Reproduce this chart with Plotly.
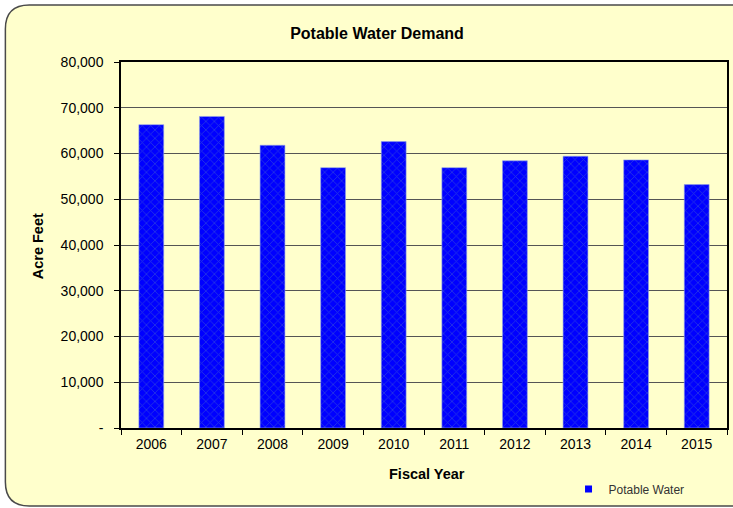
import plotly.graph_objects as go

# Fiscal-year potable water demand (acre feet)
years = ["2006", "2007", "2008", "2009", "2010", "2011", "2012", "2013", "2014", "2015"]
demand = [66300, 68100, 61800, 56900, 62600, 56900, 58400, 59400, 58600, 53200]

y_tick_vals = [0, 10000, 20000, 30000, 40000, 50000, 60000, 70000, 80000]
y_tick_text = ["-", "10,000", "20,000", "30,000", "40,000", "50,000", "60,000", "70,000", "80,000"]

W, H = 733, 508
ML, MR, MT, MB = 121, 4, 62, 80
PW, PH = W - ML - MR, H - MT - MB


def px(x):
    return (x - ML) / PW


def py(y):
    return (H - MB - y) / PH


def rounded_rect(x0, y0, x1, y1, r):
    pts = [
        ("M", [(x0 + r, y0)]),
        ("L", [(x1 - r, y0)]),
        ("Q", [(x1, y0), (x1, y0 + r)]),
        ("L", [(x1, y1 - r)]),
        ("Q", [(x1, y1), (x1 - r, y1)]),
        ("L", [(x0 + r, y1)]),
        ("Q", [(x0, y1), (x0, y1 - r)]),
        ("L", [(x0, y0 + r)]),
        ("Q", [(x0, y0), (x0 + r, y0)]),
    ]
    parts = []
    for cmd, coords in pts:
        parts.append(cmd + " " + " ".join(f"{px(a):.5f},{py(b):.5f}" for a, b in coords))
    return " ".join(parts) + " Z"


font = "Arial, Liberation Sans, sans-serif"
bar_color = "#0000FF"

fig = go.Figure()
fig.add_trace(go.Bar(
    x=years,
    y=demand,
    name="Potable Water",
    showlegend=False,
    marker=dict(
        color=bar_color,
        line=dict(width=0.6, color="#8fa0e8"),
        pattern=dict(shape="x", size=6, solidity=0.25, fgcolor="#4a6fc8", fillmode="overlay"),
    ),
))
# Legend entry with a small square swatch
fig.add_trace(go.Scatter(
    x=[None], y=[None], mode="markers", name="Potable Water",
    marker=dict(symbol="square", size=7, color=bar_color),
    showlegend=True,
))

fig.update_layout(
    width=W,
    height=H,
    margin=dict(l=ML, r=MR, t=MT, b=MB),
    paper_bgcolor="white",
    plot_bgcolor="rgba(0,0,0,0)",
    bargap=0.59,
    font=dict(family=font, size=14, color="#000000"),
    title=dict(
        text="<b>Potable Water Demand</b>",
        x=377 / W, xanchor="center", xref="container",
        y=1 - 33 / H, yanchor="middle", yref="container",
        font=dict(family=font, size=16, color="#000000"),
    ),
    showlegend=True,
    legend=dict(
        x=px(570), y=py(489), xanchor="left", yanchor="middle",
        bgcolor="rgba(0,0,0,0)",
        font=dict(family=font, size=12, color="#333333"),
        itemwidth=30,
    ),
    shapes=[
        dict(
            type="path", xref="paper", yref="paper", layer="below",
            path=rounded_rect(5, 5, 760, 506, 24),
            fillcolor="#FFFFCC",
            line=dict(color="#4a4a4a", width=1.5),
        )
    ],
    annotations=[
        dict(text="<b>Acre Feet</b>", x=px(38), y=py(246), xref="paper", yref="paper",
             textangle=-90, showarrow=False, xanchor="center", yanchor="middle",
             font=dict(family=font, size=14.5, color="#000000")),
        dict(text="<b>Fiscal Year</b>", x=px(428), y=py(474), xref="paper", yref="paper",
             showarrow=False, xanchor="center", yanchor="middle",
             font=dict(family=font, size=14.5, color="#000000")),
    ],
)

fig.update_xaxes(
    type="category",
    showline=True, linecolor="#000000", linewidth=1.5, mirror=True,
    ticks="outside", ticklen=5, tickcolor="#000000", tickson="boundaries",
    ticklabelstandoff=2,
    showgrid=False,
    tickfont=dict(family=font, size=14, color="#000000"),
)
fig.update_yaxes(
    range=[0, 80000],
    tickvals=y_tick_vals, ticktext=y_tick_text,
    showline=True, linecolor="#000000", linewidth=1.5, mirror=True,
    ticks="outside", ticklen=5, tickcolor="#000000",
    ticklabelstandoff=8,
    showgrid=True, gridcolor="#555555", gridwidth=1,
    zeroline=False,
    tickfont=dict(family=font, size=14, color="#000000"),
)

fig.write_html("out.html")
